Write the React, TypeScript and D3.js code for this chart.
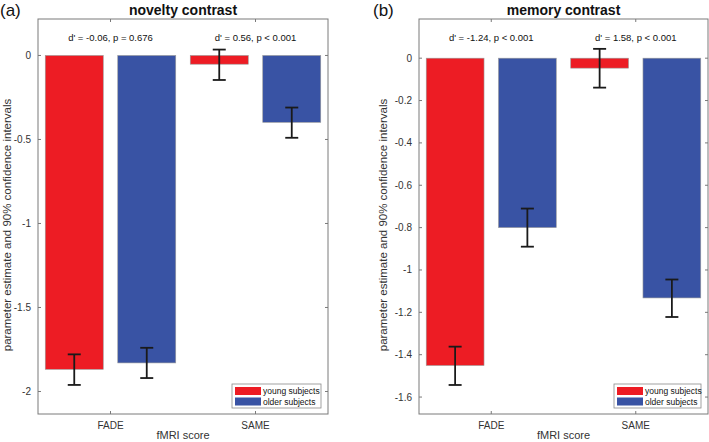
import React from "react";
import * as d3 from "d3";

const categories = ["FADE", "SAME"];
const seriesNames = ["young subjects", "older subjects"];
const seriesColors = ["#ED1C24", "#3953A4"];

// Panel (a) novelty contrast
const noveltyYoung = [-1.868, -0.052];
const noveltyYoungLo = [-1.961, -0.146];
const noveltyYoungHi = [-1.779, 0.035];
const noveltyOlder = [-1.83, -0.398];
const noveltyOlderLo = [-1.92, -0.49];
const noveltyOlderHi = [-1.74, -0.31];
const noveltyTicks = [0, -0.5, -1, -1.5, -2];
const noveltyNotes = ["d' = -0.06, p = 0.676", "d' = 0.56, p < 0.001"];

// Panel (b) memory contrast
const memoryYoung = [-1.451, -0.047];
const memoryYoungLo = [-1.543, -0.139];
const memoryYoungHi = [-1.362, 0.044];
const memoryOlder = [-0.80, -1.132];
const memoryOlderLo = [-0.89, -1.222];
const memoryOlderHi = [-0.71, -1.045];
const memoryTicks = [0, -0.2, -0.4, -0.6, -0.8, -1, -1.2, -1.4, -1.6];
const memoryNotes = ["d' = -1.24, p < 0.001", "d' = 1.58, p < 0.001"];

const FONT = "'Liberation Sans', Arial, sans-serif";

type PanelProps = {
  letter: string;
  title: string;
  x0: number;
  x1: number;
  yDomain: [number, number];
  ticks: number[];
  values: number[][];
  lo: number[][];
  hi: number[][];
  notes: string[];
  letterX: number;
  ylabelX: number;
  legendW: number;
};

function Panel(p: PanelProps) {
  const top = 19;
  const bottom = 414;
  const x = d3.scaleLinear().domain([0.5, 2.5]).range([p.x0, p.x1]);
  const y = d3.scaleLinear().domain(p.yDomain).range([bottom, top]);
  const offsets = [-0.25, 0.25];
  const step = x(2) - x(1);
  const bw = step * 0.4;
  const axisColor = "#7a7a7a";
  const tl = 3;
  const cx = (p.x0 + p.x1) / 2;
  const fmt = (v: number) => (v === 0 ? "0" : String(v));
  const legX = p.x1 - 7 - p.legendW;
  return (
    <g>
      <text x={p.letterX} y={16} fontSize={17} fontFamily={FONT} fill="#111">{p.letter}</text>
      <text x={cx} y={15} fontSize={14} fontWeight="bold" textAnchor="middle" fontFamily={FONT} fill="#111">{p.title}</text>
      {/* bars */}
      {categories.map((c, i) =>
        p.values.map((vals, s) => {
          const xc = x(i + 1) + offsets[s] * step;
          const v = vals[i];
          return (
            <rect
              key={c + s}
              x={xc - bw / 2}
              y={y(Math.max(0, v))}
              width={bw}
              height={Math.abs(y(v) - y(0))}
              fill={seriesColors[s]}
              stroke="#9a9a9a"
              strokeWidth={0.6}
            />
          );
        })
      )}
      {/* error bars */}
      {categories.map((c, i) =>
        p.values.map((vals, s) => {
          const xc = x(i + 1) + offsets[s] * step;
          const l = p.lo[s][i];
          const h = p.hi[s][i];
          return (
            <g key={"e" + c + s} stroke="#1a1a1a" strokeWidth={1.8}>
              <line x1={xc} x2={xc} y1={y(l)} y2={y(h)} />
              <line x1={xc - 6.5} x2={xc + 6.5} y1={y(l)} y2={y(l)} />
              <line x1={xc - 6.5} x2={xc + 6.5} y1={y(h)} y2={y(h)} />
            </g>
          );
        })
      )}
      {/* box */}
      <rect x={p.x0} y={top} width={p.x1 - p.x0} height={bottom - top} fill="none" stroke={axisColor} strokeWidth={1} />
      {/* y ticks */}
      {p.ticks.map((t) => (
        <g key={"t" + t}>
          <line x1={p.x0} x2={p.x0 + tl} y1={y(t)} y2={y(t)} stroke={axisColor} />
          <line x1={p.x1} x2={p.x1 - tl} y1={y(t)} y2={y(t)} stroke={axisColor} />
          <text x={p.x0 - 7} y={y(t) + 3.5} fontSize={10} textAnchor="end" fontFamily={FONT} fill="#333">{fmt(t)}</text>
        </g>
      ))}
      {/* x ticks */}
      {categories.map((c, i) => (
        <g key={"x" + c}>
          <line x1={x(i + 1)} x2={x(i + 1)} y1={bottom} y2={bottom - tl} stroke={axisColor} />
          <line x1={x(i + 1)} x2={x(i + 1)} y1={top} y2={top + tl} stroke={axisColor} />
          <text x={x(i + 1)} y={429} fontSize={10} textAnchor="middle" fontFamily={FONT} fill="#333">{c}</text>
          <text x={x(i + 1)} y={41} fontSize={9.5} textAnchor="middle" fontFamily={FONT} fill="#111">{p.notes[i]}</text>
        </g>
      ))}
      <text x={cx} y={439} fontSize={11} textAnchor="middle" fontFamily={FONT} fill="#333">fMRI score</text>
      <text
        transform={`translate(${p.ylabelX},225) rotate(-90)`}
        fontSize={11.5}
        textAnchor="middle"
        fontFamily={FONT}
        fill="#333"
      >
        parameter estimate and 90% confidence intervals
      </text>
      {/* legend */}
      <g>
        <rect x={legX} y={384} width={p.legendW} height={24} fill="#fff" stroke="#8a8a8a" strokeWidth={0.8} />
        {seriesNames.map((n, s) => (
          <g key={n}>
            <rect x={legX + 3} y={387 + s * 10.5} width={26} height={8} fill={seriesColors[s]} />
            <text x={legX + 31} y={394 + s * 10.5} fontSize={8.5} fontFamily={FONT} fill="#111">{n}</text>
          </g>
        ))}
      </g>
    </g>
  );
}

export default function App() {
  return (
    <svg width={709} height={442} style={{ position: "absolute", left: 0, top: 0, background: "#fff" }}>
      <rect width={709} height={442} fill="#fff" />
      <Panel
        letter="(a)"
        title="novelty contrast"
        x0={38}
        x1={328}
        yDomain={[-2.134, 0.217]}
        ticks={noveltyTicks}
        values={[noveltyYoung, noveltyOlder]}
        lo={[noveltyYoungLo, noveltyOlderLo]}
        hi={[noveltyYoungHi, noveltyOlderHi]}
        notes={noveltyNotes}
        letterX={0}
        ylabelX={10.5}
        legendW={89}
      />
      <Panel
        letter="(b)"
        title="memory contrast"
        x0={419}
        x1={708}
        yDomain={[-1.68, 0.185]}
        ticks={memoryTicks}
        values={[memoryYoung, memoryOlder]}
        lo={[memoryYoungLo, memoryOlderLo]}
        hi={[memoryYoungHi, memoryOlderHi]}
        notes={memoryNotes}
        letterX={373}
        ylabelX={387}
        legendW={87}
      />
    </svg>
  );
}
